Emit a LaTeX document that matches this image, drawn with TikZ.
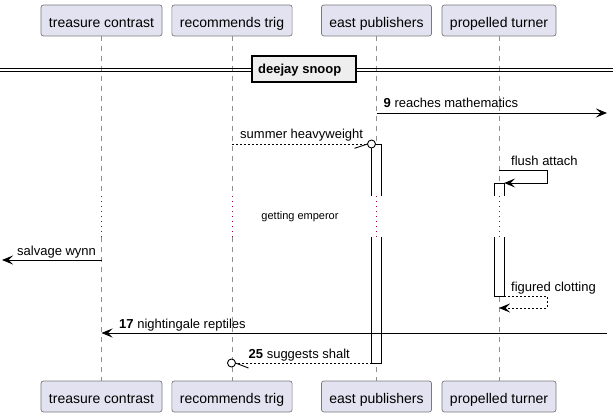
\documentclass[tikz,border=0pt]{standalone}
\usepackage{fontspec}
\setmainfont{Liberation Sans}
\usetikzlibrary{arrows.meta}
\definecolor{partfill}{HTML}{E2E2F0}
\definecolor{partdraw}{HTML}{7A7A7A}
\definecolor{lifecol}{HTML}{909090}
\definecolor{delaycol}{HTML}{A80036}
\definecolor{divfill}{HTML}{EEEEEE}
\begin{document}
\begin{tikzpicture}[x=1pt,y=-1pt,
  part/.style={draw=partdraw, fill=partfill, rounded corners=2.5pt, line width=0.7pt,
    inner xsep=8pt, inner ysep=0pt, text height=22.5pt, text depth=8.5pt,
    font=\fontsize{14}{16}\selectfont, anchor=base},
  lifeline/.style={draw=lifecol, line width=0.7pt, dash pattern=on 5pt off 5pt},
  delayline/.style={draw=delaycol, line width=1pt, dash pattern=on 1pt off 4pt},
  msg/.style={font=\fontsize{13}{15}\selectfont, inner sep=0pt, anchor=base west},
  msgline/.style={line width=0.9pt},
  retline/.style={line width=0.9pt, dash pattern=on 2pt off 2pt},
  tip/.style={-{Stealth[length=11pt,width=9pt,inset=4.5pt]}},
  barbox/.style={fill=white},
  baredge/.style={line width=0.9pt}]
\useasboundingbox (0,0) rectangle (613,417);

% participants
\node[part] (tA) at (101.5,27.5) {treasure contrast};
\node[part] (tB) at (232,27.5) {recommends trig};
\node[part] (tC) at (376.5,27.5) {east publishers};
\node[part] (tD) at (499,27.5) {propelled turner};
\node[part] (bA) at (101.5,403.5) {treasure contrast};
\node[part] (bB) at (232,403.5) {recommends trig};
\node[part] (bC) at (376.5,403.5) {east publishers};
\node[part] (bD) at (499,403.5) {propelled turner};

% delay levels
\coordinate (dS) at (0,196);
\coordinate (dE) at (0,237);

% lifelines
\foreach \p in {A,B,C,D}{
  \draw[lifeline] (t\p.south) -- (t\p.south |- dS);
  \draw[delayline] (t\p.south |- dS) -- (t\p.south |- dE);
  \draw[lifeline] (t\p.south |- dE) -- (b\p.north);
}

% divider
\draw[line width=1pt] (0,68.3) -- (613,68.3);
\draw[line width=1pt] (0,71.3) -- (613,71.3);
\node[draw=black, line width=1.5pt, fill=divfill, minimum width=104pt, minimum height=26pt, inner sep=0pt] (dv) at (304,69) {};
\node[font=\bfseries\fontsize{13}{15}\selectfont, inner sep=0pt, anchor=base west] (dvt) at (258,73.5) {deejay snoop};

% activation bars
\fill[barbox] (371.5,144) rectangle (381.5,196);
\draw[baredge] (371.5,196) -- (371.5,144) -- (381.5,144) -- (381.5,196);
\fill[barbox] (371.5,237) rectangle (381.5,363);
\draw[baredge] (371.5,237) -- (371.5,363) -- (381.5,363) -- (381.5,237);
\fill[barbox] (494.2,183) rectangle (504.2,196);
\draw[baredge] (494.2,196) -- (494.2,183) -- (504.2,183) -- (504.2,196);
\fill[barbox] (494.2,237) rectangle (504.2,296);
\draw[baredge] (494.2,237) -- (494.2,296) -- (504.2,296) -- (504.2,237);

% message levels and ends
\coordinate (R) at (607,0);
\coordinate (L) at (2,0);
\coordinate (m1) at (0,113);
\coordinate (m2) at (0,144);
\coordinate (m3) at (0,170);
\coordinate (m3b) at (0,183);
\coordinate (m5) at (0,260);
\coordinate (m6) at (0,296);
\coordinate (m6b) at (0,308);
\coordinate (m7) at (0,333);
\coordinate (m8) at (0,363);
\coordinate (selfR) at (547,0);
\coordinate (barDr) at (504.2,0);
\coordinate (barCl) at (371.5,0);

% 9 reaches mathematics
\draw[msgline,tip] (tC.south |- m1) -- (R |- m1);
\node[msg] (l1) at (383.5,108) {\textbf{9} reaches mathematics};

% summer heavyweight
\coordinate (c2) at (371.5,144);
\coordinate (c2t) at (367.5,144);
\coordinate (c2b) at (354.5,148.3);
\draw[retline] (tB.south |- m2) -- (c2t);
\draw[line width=0.9pt] (c2b) -- (c2t);
\draw[line width=0.9pt, fill=white] (c2) circle (4pt);
\node[msg] (l2) at (240,139) {summer heavyweight};

% flush attach (self)
\draw[msgline,tip] (tD.south |- m3) -- (selfR |- m3) -- (selfR |- m3b) -- (barDr |- m3b);
\node[msg] (l3) at (511,165) {flush attach};

% delay text
\node[font=\fontsize{11}{13}\selectfont, inner sep=0pt] (dl) at (300,217) {getting emperor};

% salvage wynn
\draw[msgline,tip] (tA.south |- m5) -- (L |- m5);
\node[msg] (l5) at (17,255) {salvage wynn};

% figured clotting
\draw[retline,tip] (barDr |- m6) -- (selfR |- m6) -- (selfR |- m6b) -- (tD.south |- m6b);
\node[msg] (l6) at (511,291) {figured clotting};

% 17 nightingale reptiles
\draw[msgline,tip] (R |- m7) -- (tA.south |- m7);
\node[msg] (l7) at (119,328) {\textbf{17} nightingale reptiles};

% 25 suggests shalt
\coordinate (c8) at (231.5,363);
\coordinate (c8t) at (235.5,363);
\coordinate (c8b) at (248.5,368);
\draw[retline] (barCl |- m8) -- (c8t);
\draw[line width=0.9pt] (c8t) -- (c8b);
\draw[line width=0.9pt, fill=white] (c8) circle (4pt);
\node[msg] (l8) at (248.5,358) {\textbf{25} suggests shalt};
\end{tikzpicture}
\end{document}
